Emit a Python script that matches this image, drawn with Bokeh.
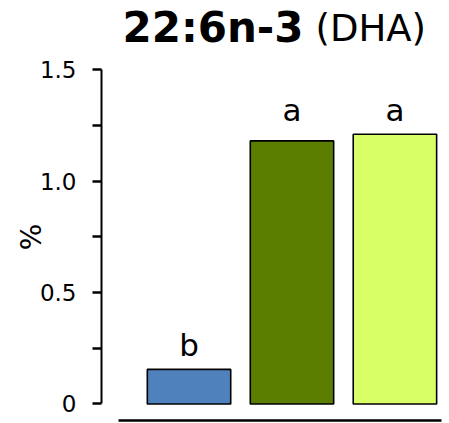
from bokeh.plotting import figure
from bokeh.layouts import column
from bokeh.models import Range1d, FixedTicker, ColumnDataSource
from bokeh.core.properties import value
from bokeh.embed import file_html
from bokeh.resources import INLINE

# data
groups = ["Group 1", "Group 2", "Group 3"]
values = [0.155, 1.18, 1.21]
letters = ["b", "a", "a"]
colors = ["#4F81BD", "#5B7D00", "#D8FF66"]
y_ticks = [0, 0.5, 1.0, 1.5]
y_tick_labels = ["0", "0.5", "1.0", "1.5"]
y_minor = [0.25, 0.75, 1.25]
title_bold = "22:6n-3"
title_rest = "(DHA)"
y_label = "%"

FONT = "DejaVu Sans"
W = 449
TITLE_H = 53
MAIN_H = 370

x_range = Range1d(0.150, 3.530)

# ---- title strip (two font weights side by side) ----
t = figure(width=W, height=TITLE_H, output_backend="svg", toolbar_location=None,
           x_range=x_range, y_range=Range1d(0, TITLE_H),
           x_axis_location=None, y_axis_location=None,
           min_border_left=101, min_border_right=0, min_border_top=0, min_border_bottom=0,
           outline_line_color=None)
t.grid.visible = False
t.text(x=[2.112], y=[26.5], text=[title_bold], text_align="right", text_baseline="alphabetic",
       text_font=value(FONT), text_font_size="42px", text_font_style="bold", text_color="black")
t.text(x=[2.112], y=[25], text=[title_rest], text_align="left", text_baseline="alphabetic",
       x_offset=12, text_font=value(FONT), text_font_size="37px", text_color="black")

# ---- main bar chart ----
xs = [i + 1 for i in range(len(groups))]
# letters of the same group share the height of the tallest bar in that group
letter_y = [max(v for v, l in zip(values, letters) if l == lt) for lt in letters]

src = ColumnDataSource(dict(x=xs, top=values, color=colors, letter=letters, ly=letter_y))

p = figure(width=W, height=MAIN_H, output_backend="svg", toolbar_location=None,
           x_range=x_range, y_range=Range1d(-0.0742, 1.572),
           min_border_left=101, min_border_right=0, min_border_top=0, min_border_bottom=3,
           outline_line_color=None)
p.grid.visible = False

p.vbar(x="x", top="top", bottom=0, width=0.81, fill_color="color",
       line_color="black", line_width=1.6, source=src)

p.text(x="x", y="ly", text="letter", source=src, text_align="center",
       text_baseline="alphabetic", y_offset=-24,
       text_font=value(FONT), text_font_size="31px", text_color="black")

ya = p.yaxis[0]
ya.bounds = (y_ticks[0], y_ticks[-1])
ya.ticker = FixedTicker(ticks=y_ticks, minor_ticks=y_minor)
ya.major_label_overrides = {tk: lb for tk, lb in zip(y_ticks, y_tick_labels)}
ya.major_tick_in = 0
ya.major_tick_out = 9
ya.minor_tick_in = 0
ya.minor_tick_out = 9
ya.axis_line_width = 2
ya.major_tick_line_width = 2.5
ya.minor_tick_line_width = 2.5
ya.major_label_standoff = 16
ya.major_label_text_font = FONT
ya.major_label_text_font_size = "23px"
ya.major_label_text_color = "black"
ya.axis_label = y_label
ya.axis_label_text_font = FONT
ya.axis_label_text_font_size = "28px"
ya.axis_label_text_font_style = "normal"
ya.axis_label_text_color = "black"
ya.axis_label_standoff = -11

xa = p.xaxis[0]
xa.bounds = (0.314, 3.457)
xa.ticker = FixedTicker(ticks=[])
xa.major_tick_in = 0
xa.major_tick_out = 0
xa.minor_tick_in = 0
xa.minor_tick_out = 0
xa.major_label_standoff = 0
xa.major_label_text_font_size = "0px"
xa.axis_line_width = 2.5

layout = column(t, p, spacing=0)
open("out.html", "w").write(file_html(layout, INLINE))
